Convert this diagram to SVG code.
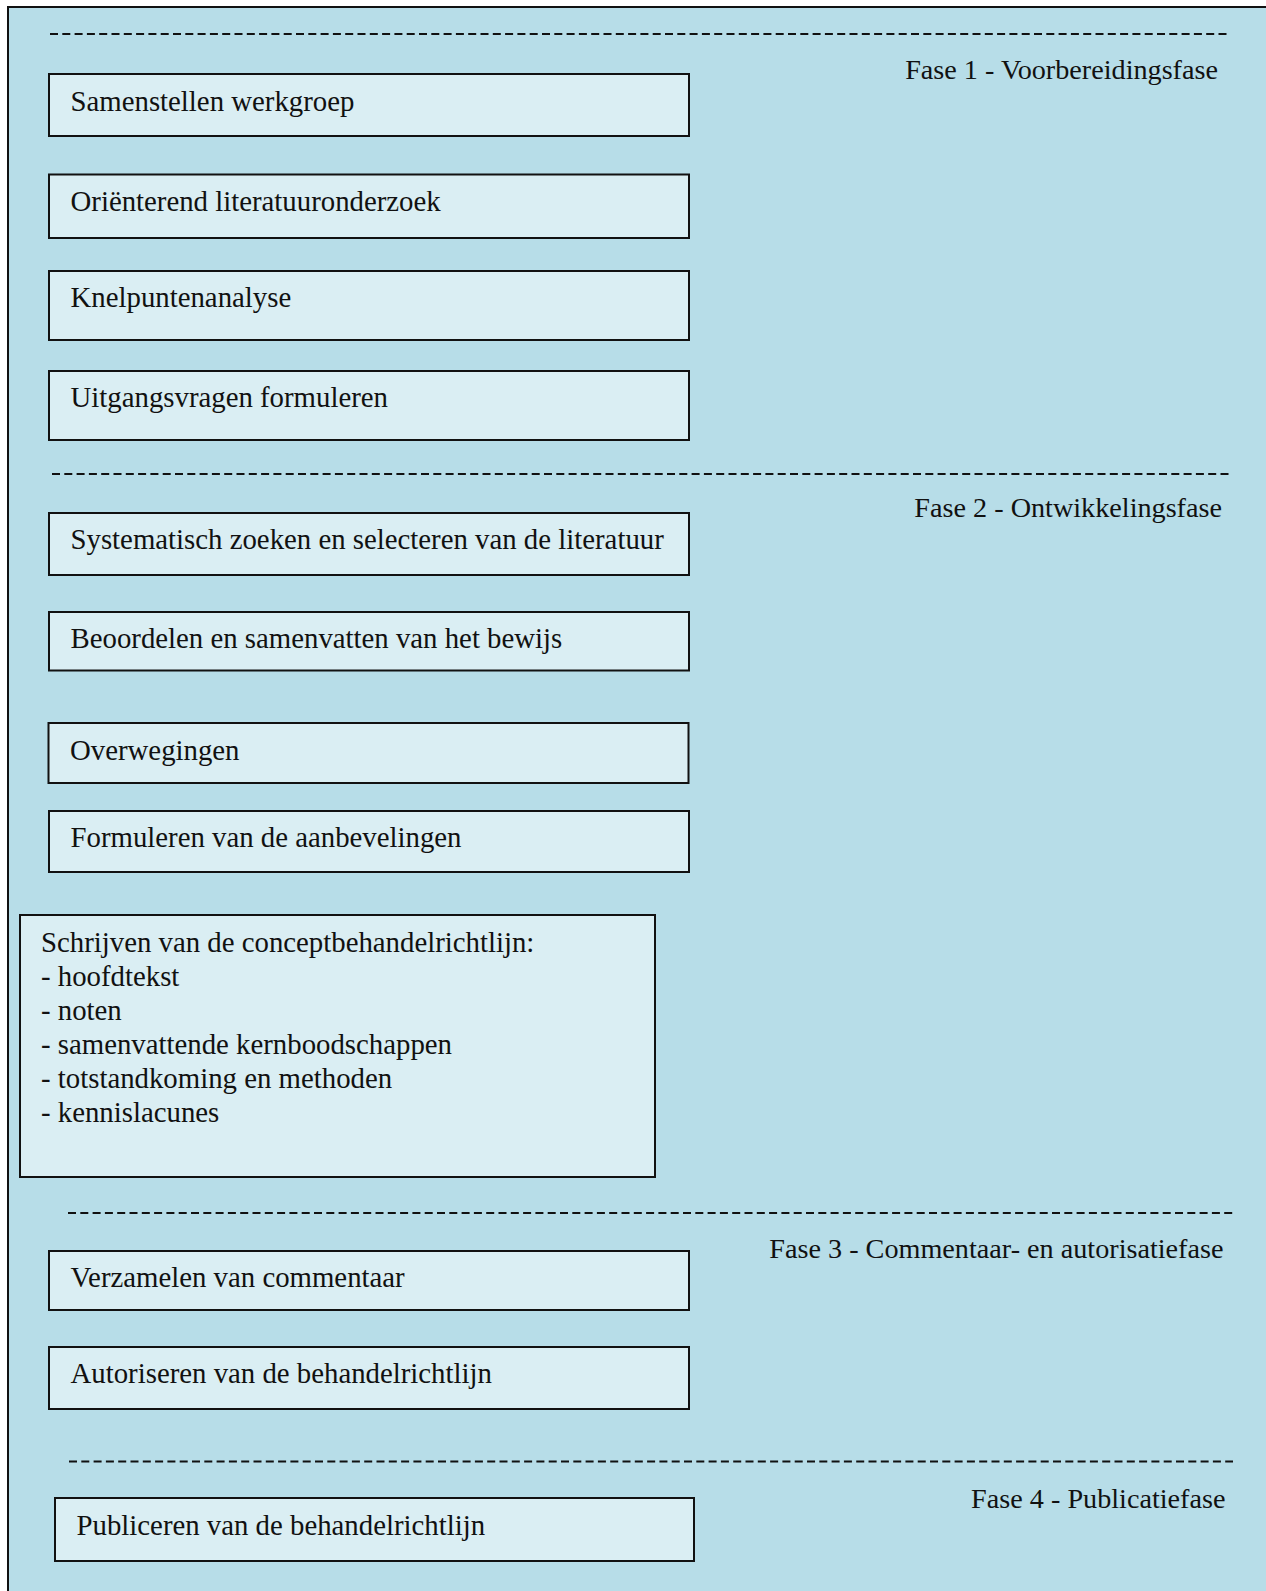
<svg xmlns="http://www.w3.org/2000/svg" width="1266" height="1591" viewBox="0 0 1266 1591">
<style>
.frame{fill:#B7DDE8;stroke:#111;stroke-width:2}
.box{fill:#DAEEF3;stroke:#111;stroke-width:2}
.dash{stroke:#111;stroke-width:2;stroke-dasharray:8 4.3;fill:none}
text{font-family:"Liberation Serif","Times New Roman",serif;font-size:28.8px;fill:#111}
.phase{text-anchor:end;font-size:28.2px}
</style>
<rect width="1266" height="1591" fill="#ffffff"/>
<rect class="frame" x="8" y="7" width="1270" height="1600"/>
<g id="separators">
<line class="dash" x1="50" y1="34" x2="1229" y2="34"/>
<line class="dash" x1="52" y1="474" x2="1232" y2="474"/>
<line class="dash" x1="68" y1="1213" x2="1233" y2="1213"/>
<line class="dash" x1="69" y1="1461.5" x2="1233" y2="1461.5"/>
</g>
<g id="phase1"><text class="phase" x="1218" y="79">Fase 1 - Voorbereidingsfase</text></g>
<g id="phase2"><text class="phase" x="1222" y="517">Fase 2 - Ontwikkelingsfase</text></g>
<g id="phase3"><text class="phase" x="1223.5" y="1258">Fase 3 - Commentaar- en autorisatiefase</text></g>
<g id="phase4"><text class="phase" x="1225.5" y="1508">Fase 4 - Publicatiefase</text></g>
<g id="box1"><rect class="box" x="49" y="74" width="640" height="62"/><text x="70.5" y="111">Samenstellen werkgroep</text></g>
<g id="box2"><rect class="box" x="49" y="174.5" width="640" height="63.5"/><text x="70.5" y="211">Oriënterend literatuuronderzoek</text></g>
<g id="box3"><rect class="box" x="49" y="271" width="640" height="69"/><text x="70.5" y="307">Knelpuntenanalyse</text></g>
<g id="box4"><rect class="box" x="49" y="371" width="640" height="69"/><text x="70.5" y="407">Uitgangsvragen formuleren</text></g>
<g id="box5"><rect class="box" x="49" y="513" width="640" height="62"/><text x="70.5" y="549">Systematisch zoeken en selecteren van de literatuur</text></g>
<g id="box6"><rect class="box" x="49" y="612" width="640" height="58.5"/><text x="70.5" y="647.5">Beoordelen en samenvatten van het bewijs</text></g>
<g id="box7"><rect class="box" x="48.5" y="723" width="640" height="60"/><text x="70" y="760">Overwegingen</text></g>
<g id="box8"><rect class="box" x="49" y="811" width="640" height="61"/><text x="70.5" y="847">Formuleren van de aanbevelingen</text></g>
<g id="box9"><rect class="box" x="20" y="915" width="635" height="262"/>
<text x="41" y="952">Schrijven van de conceptbehandelrichtlijn:</text>
<text x="41" y="986">- hoofdtekst</text>
<text x="41" y="1020">- noten</text>
<text x="41" y="1054">- samenvattende kernboodschappen</text>
<text x="41" y="1088">- totstandkoming en methoden</text>
<text x="41" y="1122">- kennislacunes</text>
</g>
<g id="box10"><rect class="box" x="49" y="1251" width="640" height="59"/><text x="70.5" y="1287">Verzamelen van commentaar</text></g>
<g id="box11"><rect class="box" x="49" y="1347" width="640" height="62"/><text x="70.5" y="1383">Autoriseren van de behandelrichtlijn</text></g>
<g id="box12"><rect class="box" x="55" y="1498" width="639" height="63"/><text x="76.5" y="1535">Publiceren van de behandelrichtlijn</text></g>
</svg>
